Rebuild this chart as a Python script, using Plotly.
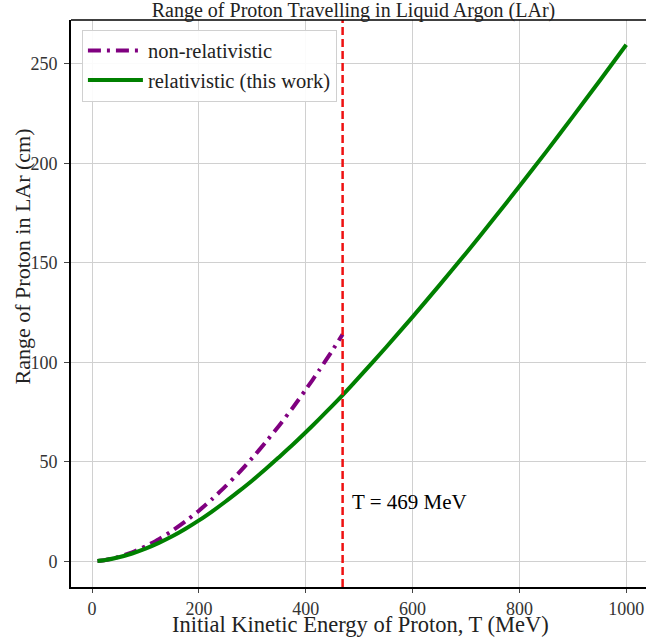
import plotly.graph_objects as go

# Initial kinetic energy (MeV)
T_rel = [10, 25, 50, 75, 100, 125, 150, 175, 200, 225, 250, 275, 300, 325, 350, 375,
         400, 425, 450, 469, 500, 550, 600, 650, 700, 750, 800, 850, 900, 950, 1000]
R_rel = [0.15, 0.6, 2.0, 3.9, 6.3, 9.2, 12.5, 16.3, 20.5, 25.1, 30.0, 35.2, 40.6, 46.3, 52.3, 58.4,
         64.8, 71.4, 78.2, 83.5, 92.5, 107.4, 122.8, 138.6, 154.8, 171.4, 188.4, 205.7, 223.4, 241.3, 259.5]

T_nonrel = [10, 25, 50, 75, 100, 125, 150, 175, 200, 225, 250, 275, 300, 325, 350, 375,
            400, 425, 450, 469]
R_nonrel = [0.13, 0.65, 2.2, 4.5, 7.5, 11.1, 15.3, 20.1, 25.4, 31.3, 37.7, 44.5, 51.9, 59.8, 68.1, 76.9,
            86.2, 95.9, 106.0, 114.0]

T_cut = 469
x_ticks = [0, 200, 400, 600, 800, 1000]
y_ticks = [0, 50, 100, 150, 200, 250]

FONT = "Liberation Serif"

fig = go.Figure()
fig.add_trace(go.Scatter(x=T_nonrel, y=R_nonrel, mode="lines", name="non-relativistic",
                         line=dict(color="#800080", width=4, dash="13px,6px,3px,6px",
                                   shape="spline", smoothing=0.6)))
fig.add_trace(go.Scatter(x=T_rel, y=R_rel, mode="lines", name="relativistic (this work)",
                         line=dict(color="#008000", width=4, shape="spline", smoothing=0.6)))

fig.add_shape(type="line", xref="x", yref="paper", x0=T_cut, x1=T_cut, y0=0, y1=1,
              line=dict(color="#ee1111", width=2.5, dash="8px,4px"))
# top spine (no right spine: the original is cropped at the right)
fig.add_shape(type="line", xref="paper", yref="paper", x0=0, x1=1, y0=1, y1=1,
              line=dict(color="black", width=1.5))

fig.add_annotation(x=T_cut + 13, y=30, xref="x", yref="y", text="T = 469 MeV",
                   showarrow=False, xanchor="left", yanchor="middle",
                   font=dict(family=FONT, size=21, color="black"))

# axis titles
fig.add_annotation(x=0.5035, y=0, xref="paper", yref="paper", yshift=-37,
                   text="Initial Kinetic Energy of Proton, T (MeV)", showarrow=False,
                   xanchor="center", yanchor="middle", font=dict(family=FONT, size=22.5, color="#222"))
fig.add_annotation(x=0, y=0.583, xref="paper", yref="paper", xshift=-49,
                   text="Range of Proton in LAr (cm)", showarrow=False, textangle=-90,
                   xanchor="center", yanchor="middle", font=dict(family=FONT, size=22, color="#222"))

fig.update_layout(
    width=646, height=639,
    margin=dict(l=71, r=0, t=20, b=52),
    paper_bgcolor="white", plot_bgcolor="white",
    font=dict(family=FONT, size=18, color="black"),
    title=dict(text="Range of Proton Travelling in Liquid Argon (LAr)",
               x=353.5 / 646, xanchor="center", xref="container",
               y=1 - 10 / 639, yanchor="middle", yref="container",
               font=dict(family=FONT, size=20, color="#222")),
    showlegend=True,
    legend=dict(x=0.019, y=0.983, xanchor="left", yanchor="top",
                bgcolor="rgba(255,255,255,0.9)", bordercolor="#d0d0d0", borderwidth=1,
                font=dict(family=FONT, size=20.5, color="#222"), itemwidth=55),
)
fig.update_xaxes(range=[-39.5, 1037], tickvals=x_ticks, ticks="outside", ticklen=4, tickwidth=1,
                 showline=True, linecolor="black", linewidth=2, mirror=False, automargin=False,
                 showgrid=True, gridcolor="#d0d0d0", gridwidth=1, zeroline=False,
                 tickfont=dict(size=18, color="#333"))
fig.update_yaxes(range=[-12.95, 271.95], tickvals=y_ticks, ticks="outside", ticklen=5, tickwidth=1,
                 showline=True, linecolor="black", linewidth=2, mirror=False, automargin=False,
                 showgrid=True, gridcolor="#d0d0d0", gridwidth=1, zeroline=False,
                 ticklabelstandoff=3,
                 tickfont=dict(size=18, color="#333"))

fig.write_html("out.html", config={"displayModeBar": False},
               post_script="document.body.style.margin='0px';")
